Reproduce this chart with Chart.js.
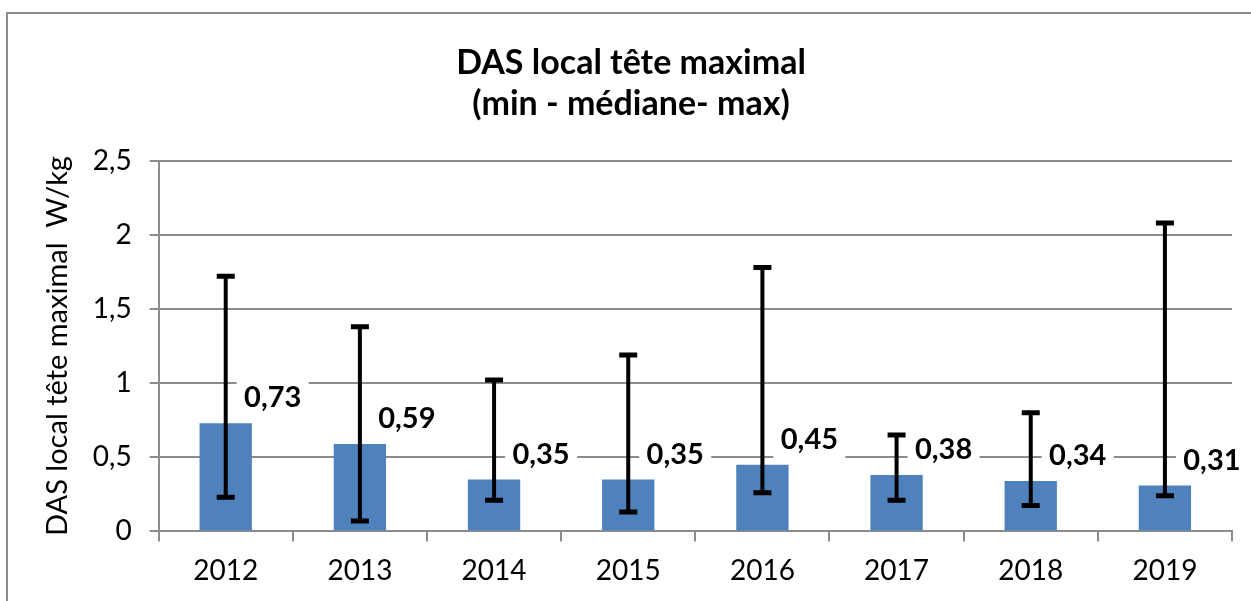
<!DOCTYPE html>
<html>
<head>
<meta charset="utf-8">
<script src="https://cdn.jsdelivr.net/npm/chart.js@4"></script>
<style>
  html, body { margin: 0; padding: 0; background: #fff; }
  #wrap { width: 1251px; height: 601px; }
</style>
</head>
<body>
<div id="wrap"><canvas id="dasChart" width="1251" height="601"></canvas></div>
<script>
// données
const years = ["2012", "2013", "2014", "2015", "2016", "2017", "2018", "2019"];
const medians = [0.73, 0.59, 0.35, 0.35, 0.45, 0.38, 0.34, 0.31];
const mins = [0.23, 0.07, 0.21, 0.13, 0.26, 0.21, 0.175, 0.24];
const maxs = [1.72, 1.38, 1.02, 1.19, 1.78, 0.65, 0.80, 2.08];
const yTicks = [0, 0.5, 1, 1.5, 2, 2.5];

const FONT = "Lato, 'Open Sans', sans-serif";
const frName = v => String(v).replace(".", ",");

// cadre gris autour du graphique
const framePlugin = {
    id: "frame",
    beforeDraw(chart) {
        const ctx = chart.ctx;
        ctx.save();
        ctx.strokeStyle = "#8c8c8c";
        ctx.lineWidth = 2;
        ctx.strokeRect(7, 13, 1260, 620);
        ctx.restore();
    }
};

// étiquettes de la médiane + barres min/max
const minMaxPlugin = {
    id: "minMax",
    afterDatasetsDraw(chart) {
        const ctx = chart.ctx;
        const yScale = chart.scales.y;
        const bars = chart.getDatasetMeta(0).data;
        ctx.save();

        // étiquettes sur fond blanc
        ctx.font = "bold 29px " + FONT;
        ctx.textAlign = "center";
        ctx.textBaseline = "middle";
        bars.forEach((bar, i) => {
            const lx = bar.x + 47;
            const ly = yScale.getPixelForValue(medians[i]) - 26;
            ctx.fillStyle = "#fff";
            ctx.fillRect(lx - 36, ly - 25, 72, 50);
            ctx.fillStyle = "#000";
            ctx.fillText(frName(medians[i]), lx, ly + 1);
        });

        // barres d'erreur
        ctx.strokeStyle = "#000";
        ctx.lineCap = "butt";
        bars.forEach((bar, i) => {
            const yTop = yScale.getPixelForValue(maxs[i]);
            const yBot = yScale.getPixelForValue(mins[i]);
            ctx.lineWidth = 4;
            ctx.beginPath();
            ctx.moveTo(bar.x, yTop);
            ctx.lineTo(bar.x, yBot);
            ctx.stroke();
            ctx.lineWidth = 5;
            ctx.beginPath();
            ctx.moveTo(bar.x - 9, yTop);
            ctx.lineTo(bar.x + 9, yTop);
            ctx.moveTo(bar.x - 9, yBot);
            ctx.lineTo(bar.x + 9, yBot);
            ctx.stroke();
        });
        ctx.restore();
    }
};

new Chart(document.getElementById("dasChart"), {
    type: "bar",
    data: {
        labels: years,
        datasets: [{
            data: medians,
            backgroundColor: "#4f81bd",
            borderWidth: 0,
            categoryPercentage: 1,
            barPercentage: 0.39
        }]
    },
    options: {
        responsive: false,
        animation: false,
        layout: { padding: { top: 43, left: 30, right: 19, bottom: 0 } },
        plugins: {
            legend: { display: false },
            tooltip: { enabled: false },
            title: {
                display: true,
                text: ["DAS local tête maximal", "(min - médiane- max)"],
                color: "#000",
                font: { family: FONT, size: 34, weight: "bold", lineHeight: 1.2 },
                padding: { top: 0, bottom: 36 }
            }
        },
        scales: {
            x: {
                grid: { drawOnChartArea: false, drawTicks: true, tickLength: 10, color: "#8c8c8c", lineWidth: 2 },
                border: { color: "#8c8c8c", width: 2 },
                ticks: { color: "#000", font: { family: FONT, size: 28 }, padding: 13 }
            },
            y: {
                min: 0,
                max: 2.5,
                afterBuildTicks(axis) { axis.ticks = yTicks.map(v => ({ value: v })); },
                grid: { color: "#8c8c8c", lineWidth: 2, tickLength: 9 },
                border: { color: "#8c8c8c", width: 2 },
                ticks: {
                    color: "#000",
                    font: { family: FONT, size: 28 },
                    padding: 18,
                    callback: v => frName(v)
                },
                title: {
                    display: true,
                    text: "DAS local tête maximal  W/kg",
                    color: "#000",
                    font: { family: FONT, size: 29 },
                    padding: { top: 10, bottom: 0 }
                }
            }
        }
    },
    plugins: [framePlugin, minMaxPlugin]
});
</script>
</body>
</html>
